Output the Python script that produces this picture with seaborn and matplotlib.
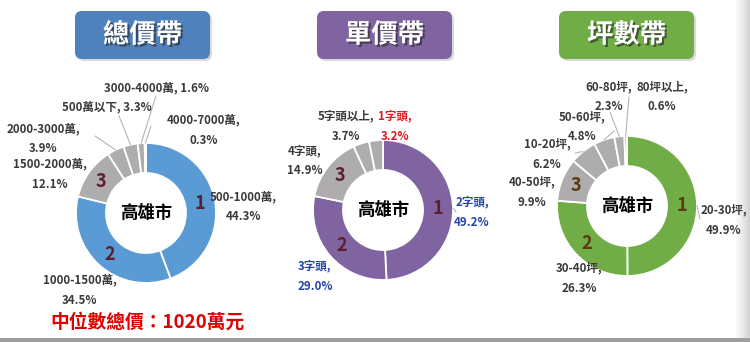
import numpy as np
import matplotlib
matplotlib.use("Agg")
import matplotlib.pyplot as plt
import matplotlib.patheffects as pe
from matplotlib.patches import FancyBboxPatch, Rectangle
import seaborn as sns

# 總價帶
price_cats = ["500-1000萬", "1000-1500萬", "1500-2000萬", "2000-3000萬",
              "500萬以下", "3000-4000萬", "4000-7000萬"]
price_vals = [44.3, 34.5, 12.1, 3.9, 3.3, 1.6, 0.3]

# 單價帶
unit_cats = ["2字頭", "3字頭", "4字頭", "5字頭以上", "1字頭"]
unit_vals = [49.2, 29.0, 14.9, 3.7, 3.2]

# 坪數帶
size_cats = ["20-30坪", "30-40坪", "40-50坪", "10-20坪", "50-60坪", "60-80坪", "80坪以上"]
size_vals = [49.9, 26.3, 9.9, 6.2, 4.8, 2.3, 0.6]

titles = ["總價帶", "單價帶", "坪數帶"]
center_label = "高雄市"
median_note = "中位數總價：1020萬元"
rank_labels = ["1", "2", "3"]

sns.set_theme(style="white")
plt.rcParams["font.family"] = ["Noto Sans CJK TC", "DejaVu Sans"]

W, H = 750, 342
GRAY = "#AEACAC"
TXT = "#3A3A3A"


def Y(y):
    # pixel row -> data y (data units are pixels, y up)
    return H - y


# layout for each panel (pixel coordinates measured on the reference)
panels = [
    dict(cats=price_cats, vals=price_vals, main="#5B9BD5", box="#4F81BD",
         center=(146, 213), box_x=(75, 210), rank_color="#5C1F2E",
         seps=["\n", "\n", "\n", "\n", " ", " ", "\n"],
         label_xy=[(243, 207), (80, 290), (50, 174), (43, 139),
                   (107, 107), (157, 88), (204, 130)],
         anchors=[None, None, None, (95, 136), (119, 116), (156, 96), (151, 126)],
         colors=[TXT] * 7),
    dict(cats=unit_cats, vals=unit_vals, main="#8064A2", box="#8064A2",
         center=(383, 210), box_x=(317, 452), rank_color="#5C1F2E",
         seps=["\n"] * 5,
         label_xy=[(472, 212), (315, 276), (305, 161), (346, 126), (395, 126)],
         anchors=[(456, 212), None, None, None, None],
         colors=["#2344A8", "#2344A8", TXT, TXT, "#E0191E"]),
    dict(cats=size_cats, vals=size_vals, main="#70AD47", box="#70AD47",
         center=(627, 206), box_x=(559, 694), rank_color="#5A3A10",
         seps=["\n"] * 7,
         label_xy=[(724, 220), (579, 278), (532, 192), (547, 154),
                   (582, 127), (609, 97), (662, 97)],
         anchors=[(700, 219), None, None, (575, 153), (614, 131), (610, 112), (629, 97)],
         colors=[TXT] * 7),
]

R_OUT, RING = 70, 30

fig = plt.figure(figsize=(7.5, 3.42), dpi=100, facecolor="white")
ax = fig.add_axes([0, 0, 1, 1])

for i, p in enumerate(panels):
    cx, cy = p["center"]
    colors = [p["main"], p["main"]] + [GRAY] * (len(p["vals"]) - 2)
    wedges, _ = ax.pie(p["vals"], colors=colors, startangle=90, counterclock=False,
                       center=(cx, Y(cy)), radius=R_OUT,
                       wedgeprops=dict(width=RING, edgecolor="white", linewidth=1.3))

    # rank numbers inside the ring
    r_mid = R_OUT - RING / 2
    for k, lab in enumerate(rank_labels):
        w = wedges[k]
        ang = np.deg2rad((w.theta1 + w.theta2) / 2)
        ax.text(cx + r_mid * np.cos(ang), Y(cy) + r_mid * np.sin(ang), lab,
                ha="center", va="center", fontsize=13, fontweight="bold",
                color=p["rank_color"])

    ax.text(cx, Y(cy), center_label, ha="center", va="center",
            fontsize=12.5, fontweight="bold", color="black")

    # category labels and leader lines
    for k, (cat, val) in enumerate(zip(p["cats"], p["vals"])):
        lx, ly = p["label_xy"][k]
        ax.text(lx, Y(ly), f"{cat},{p['seps'][k]}{val:.1f}%",
                ha="center", va="center", fontsize=8.3, fontweight="bold",
                color=p["colors"][k], linespacing=1.7)
        if p["anchors"][k] is not None:
            w = wedges[k]
            ang = np.deg2rad((w.theta1 + w.theta2) / 2)
            x0, y0 = cx + R_OUT * np.cos(ang), Y(cy) + R_OUT * np.sin(ang)
            ax1, ay1 = p["anchors"][k]
            ax.plot([x0, ax1], [y0, Y(ay1)], color="#B5B5B5", lw=0.8)

    # title box
    bx0, bx1 = p["box_x"]
    ax.add_patch(FancyBboxPatch((bx0 + 2, Y(61)), bx1 - bx0, 48,
                                boxstyle="round,pad=0,rounding_size=7",
                                fc="#000000", ec="none", alpha=0.15))
    ax.add_patch(FancyBboxPatch((bx0, Y(59)), bx1 - bx0, 48,
                                boxstyle="round,pad=0,rounding_size=7",
                                fc=p["box"], ec="none"))
    ax.text((bx0 + bx1) / 2, Y(35), titles[i], ha="center", va="center",
            fontsize=19, fontweight="bold", color="white",
            path_effects=[pe.withSimplePatchShadow(offset=(1.5, -1.5),
                                                   shadow_rgbFace="#222222", alpha=0.6)])

ax.text(148, Y(322), median_note, ha="center", va="center",
        fontsize=13.5, fontweight="bold", color="#E00000")

# grey frame strips of the screenshot
ax.add_patch(Rectangle((0, 0), W, 4, fc="#9E9E9E", ec="none"))
grad = np.linspace(0, 1, 30)[None, :]
ax.imshow(grad, extent=(736, W, 4, H), cmap="Greys", vmin=-0.2, vmax=4,
          aspect="auto", zorder=0)

ax.set_xlim(0, W)
ax.set_ylim(0, H)
ax.set_aspect("auto")
ax.axis("off")

fig.savefig("out.png", dpi=100, facecolor="white")
